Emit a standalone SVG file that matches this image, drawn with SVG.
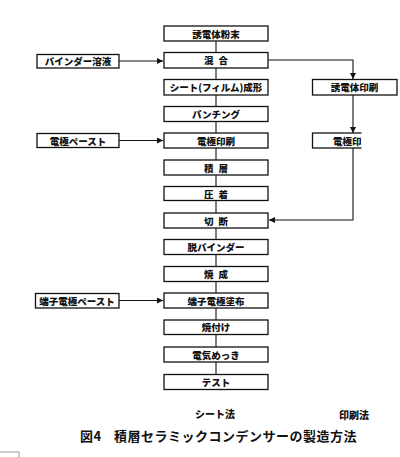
<svg xmlns="http://www.w3.org/2000/svg" width="400" height="457" viewBox="0 0 400 457">
<style>
.box{fill:#fff;stroke:#111;stroke-width:1.3}
.t{font-family:"Noto Sans CJK JP","Noto Sans CJK SC",sans-serif;font-weight:900;font-size:9.5px;fill:#111;text-anchor:middle;dominant-baseline:central;word-spacing:3px}
.c{fill:none;stroke:#111;stroke-width:1.1}
.cap{font-family:"Noto Sans CJK JP",sans-serif;font-weight:900;font-size:10px;fill:#111;text-anchor:middle}
.title{font-family:"Noto Sans CJK JP",sans-serif;font-weight:700;font-size:13px;fill:#111;letter-spacing:0.5px}
</style>
<defs>
<marker id="ah" viewBox="0 0 10 10" refX="10" refY="5" markerWidth="7" markerHeight="6" orient="auto" markerUnits="userSpaceOnUse">
<path d="M0,0 L10,5 L0,10 z" fill="#111"/>
</marker>
<clipPath id="cut"><rect x="300" y="120" width="61.5" height="40"/></clipPath>
</defs>
<g id="connectors">
<line class="c" x1="216" y1="41" x2="216" y2="375"/>
<line class="c" x1="119" y1="61" x2="163" y2="61" marker-end="url(#ah)"/>
<line class="c" x1="119" y1="140.5" x2="163" y2="140.5" marker-end="url(#ah)"/>
<line class="c" x1="119" y1="300.5" x2="163" y2="300.5" marker-end="url(#ah)"/>
<polyline class="c" points="268,60 353,60 353,79" marker-end="url(#ah)"/>
<line class="c" x1="353" y1="95" x2="353" y2="133" marker-end="url(#ah)"/>
<polyline class="c" points="353,148 353,220 269,220" marker-end="url(#ah)"/>
</g>
<g id="n1"><rect class="box" x="164" y="26" width="104" height="15"/><text class="t" x="216" y="33.5">誘電体粉末</text></g>
<g id="n2"><rect class="box" x="164" y="52.5" width="104" height="15.5"/><text class="t" x="216" y="60.2">混 合</text></g>
<g id="n3"><rect class="box" x="164" y="79.5" width="104" height="15.5"/><text class="t" x="216" y="87.2" style="word-spacing:0">シート(フィルム)成形</text></g>
<g id="n4"><rect class="box" x="164" y="106.5" width="104" height="15"/><text class="t" x="216" y="114">パンチング</text></g>
<g id="n5"><rect class="box" x="164" y="133" width="104" height="15"/><text class="t" x="216" y="140.5">電極印刷</text></g>
<g id="n6"><rect class="box" x="164" y="160" width="104" height="15"/><text class="t" x="216" y="167.5">積 層</text></g>
<g id="n7"><rect class="box" x="164" y="186.5" width="104" height="14"/><text class="t" x="216" y="193.5">圧 着</text></g>
<g id="n8"><rect class="box" x="164" y="213" width="104" height="15"/><text class="t" x="216" y="220.5">切 断</text></g>
<g id="n9"><rect class="box" x="164" y="239.5" width="104" height="15"/><text class="t" x="216" y="247">脱バインダー</text></g>
<g id="n10"><rect class="box" x="164" y="266.5" width="104" height="15"/><text class="t" x="216" y="274">焼 成</text></g>
<g id="n11"><rect class="box" x="164" y="293" width="104" height="15"/><text class="t" x="216" y="300.5">端子電極塗布</text></g>
<g id="n12"><rect class="box" x="164" y="320" width="104" height="14.5"/><text class="t" x="216" y="327.2">焼付け</text></g>
<g id="n13"><rect class="box" x="164" y="347" width="104" height="15"/><text class="t" x="216" y="354.5">電気めっき</text></g>
<g id="n14"><rect class="box" x="164" y="374.5" width="104" height="15"/><text class="t" x="216" y="382">テスト</text></g>
<g id="l1"><rect class="box" x="37" y="54.5" width="82" height="13.5"/><text class="t" x="78" y="61.2">バインダー溶液</text></g>
<g id="l2"><rect class="box" x="37" y="133.5" width="82" height="14"/><text class="t" x="78" y="140.5">電極ペースト</text></g>
<g id="l3"><rect class="box" x="35.5" y="293.5" width="83.5" height="14.5"/><text class="t" x="77" y="300.7">端子電極ペースト</text></g>
<g id="r1"><rect class="box" x="312.5" y="79.5" width="84.5" height="15.5"/><text class="t" x="354.5" y="87.2">誘電体印刷</text></g>
<g id="r2" clip-path="url(#cut)"><rect class="box" x="312.5" y="133" width="84.5" height="15"/><text class="t" x="333" y="140.5" style="text-anchor:start">電極印</text></g>
<text class="cap" x="215" y="418">シート法</text>
<text class="cap" x="354" y="419">印刷法</text>
<text class="title" y="441"><tspan x="80">図4</tspan><tspan x="114">積層セラミックコンデンサーの製造方法</tspan></text>
<polyline points="0,452 19,452 19,457" fill="none" stroke="#999" stroke-width="1"/>
</svg>
